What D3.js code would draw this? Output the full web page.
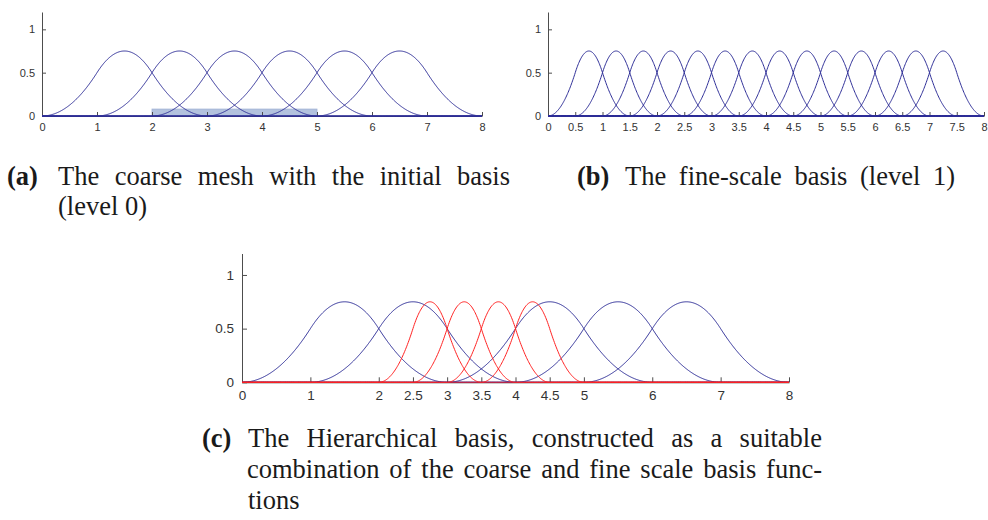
<!DOCTYPE html>
<html>
<head>
<meta charset="utf-8">
<script src="https://cdn.jsdelivr.net/npm/d3@7"></script>
<style>
  html, body { margin: 0; padding: 0; background: #fff; }
  svg { display: block; }
</style>
</head>
<body>
<svg id="fig" width="988" height="520"></svg>
<script>
// Left knot of each quadratic B-spline (support = 3 knot spans)
const coarseStarts = [0, 1, 2, 3, 4, 5];               // level 0, knot spacing 1
const fineStarts = [0, 0.5, 1, 1.5, 2, 2.5, 3, 3.5, 4, 4.5, 5, 5.5, 6, 6.5]; // level 1, spacing 0.5
const hierCoarseStarts = [0, 1, 3, 4, 5];              // coarse functions kept
const hierFineStarts = [2, 2.5, 3, 3.5];               // fine functions added
const coarseSpacing = 1;
const fineSpacing = 0.5;

// Refined cell range on the coarse mesh
const refinedRange = [2, 5];
const refinedBarHeight = 0.08;

// Axis ticks
const yTicks = [0, 0.5, 1];
const xTicksA = [0, 1, 2, 3, 4, 5, 6, 7, 8];
const xTicksB = [0, 0.5, 1, 1.5, 2, 2.5, 3, 3.5, 4, 4.5, 5, 5.5, 6, 6.5, 7, 7.5, 8];
const xTicksC = [0, 1, 2, 2.5, 3, 3.5, 4, 4.5, 5, 6, 7, 8];
const xDomain = [0, 8];
const yDomain = [0, 1.2];

// Caption text
const captionA = ["(a)", "The coarse mesh with the initial basis", "(level 0)"];
const captionB = ["(b)", "The fine-scale basis (level 1)"];
const captionC = ["(c)", "The Hierarchical basis, constructed as a suitable",
                  "combination of the coarse and fine scale basis func-", "tions"];

const BLUE = "#2f2f98";
const RED = "#ff2222";
const AXIS = "#4d4d4d";
const TICKTXT = "#333";

// Uniform quadratic B-spline starting at knot t0 with spacing h
function quadBSpline(t0, h) {
  return x => {
    const u = (x - t0) / h;
    if (u < 0 || u > 3) return 0;
    if (u < 1) return u * u / 2;
    if (u < 2) return (-2 * u * u + 6 * u - 3) / 2;
    return (3 - u) * (3 - u) / 2;
  };
}

const samples = d3.range(0, 8 + 1e-9, 0.01);
const svg = d3.select("#fig");

function panel(cfg) {
  const x = d3.scaleLinear().domain(xDomain).range([cfg.x0, cfg.x1]);
  const y = d3.scaleLinear().domain(yDomain).range([cfg.y0, cfg.y1]);
  const g = svg.append("g");

  if (cfg.shade) {
    g.append("rect")
      .attr("x", x(cfg.shade[0]))
      .attr("y", y(refinedBarHeight))
      .attr("width", x(cfg.shade[1]) - x(cfg.shade[0]))
      .attr("height", y(0) - y(refinedBarHeight))
      .attr("fill", "#b3c2de")
      .attr("stroke", "#9fb1d4")
      .attr("stroke-width", 0.8);
  }

  // axes: ticks drawn inward
  const xAxis = d3.axisBottom(x).tickValues(cfg.xTicks)
    .tickSize(-cfg.tick).tickPadding(cfg.tick + 3).tickSizeOuter(0)
    .tickFormat(d3.format("~g"));
  const yAxis = d3.axisLeft(y).tickValues(yTicks)
    .tickSize(-cfg.tick).tickPadding(cfg.tick + 3).tickSizeOuter(0)
    .tickFormat(d3.format("~g"));

  const gx = g.append("g").attr("transform", `translate(0,${cfg.y0})`).call(xAxis);
  const gy = g.append("g").attr("transform", `translate(${cfg.x0},0)`).call(yAxis);
  [gx, gy].forEach(a => {
    a.select(".domain").attr("stroke", AXIS).attr("stroke-width", 1);
    a.selectAll(".tick line").attr("stroke", AXIS);
    a.selectAll(".tick text")
      .attr("fill", TICKTXT)
      .attr("font-family", "Liberation Sans, Arial, sans-serif")
      .attr("font-size", cfg.fs);
  });

  const line = d3.line().x(d => x(d[0])).y(d => y(d[1]));
  cfg.series.forEach(s => {
    s.starts.forEach(t0 => {
      const f = quadBSpline(t0, s.h);
      g.append("path")
        .attr("d", line(samples.map(v => [v, f(v)])))
        .attr("fill", "none")
        .attr("stroke", s.color)
        .attr("stroke-width", 1);
    });
  });
}

panel({ x0: 42, x1: 482, y0: 116, y1: 12, tick: 4, fs: 11, xTicks: xTicksA,
        shade: refinedRange,
        series: [{ starts: coarseStarts, h: coarseSpacing, color: BLUE }] });

panel({ x0: 548, x1: 984, y0: 116, y1: 12, tick: 4, fs: 11, xTicks: xTicksB,
        series: [{ starts: fineStarts, h: fineSpacing, color: BLUE }] });

panel({ x0: 242, x1: 789, y0: 382.3, y1: 253.5, tick: 5, fs: 13.5, xTicks: xTicksC,
        series: [{ starts: hierCoarseStarts, h: coarseSpacing, color: BLUE },
                 { starts: hierFineStarts, h: fineSpacing, color: RED }] });

// Captions: lines are justified by stretching the word spaces
const capFont = "Liberation Serif, Times New Roman, serif";
function capText(str, x, y, opts = {}) {
  const t = svg.append("text")
    .attr("x", x).attr("y", y)
    .attr("font-family", capFont)
    .attr("font-size", 26.5)
    .attr("fill", "#1a1a1a")
    .attr("font-weight", opts.bold ? "bold" : "normal")
    .text(str);
  if (opts.width) {
    const natural = t.node().getComputedTextLength();
    const gaps = (str.match(/ /g) || []).length;
    if (gaps > 0) t.attr("word-spacing", (opts.width - natural) / gaps);
  }
  return t;
}

capText(captionA[0], 7, 185, { bold: true });
capText(captionA[1], 58, 185, { width: 452 });
capText(captionA[2], 58, 215);

capText(captionB[0], 577, 185, { bold: true });
capText(captionB[1], 625, 185, { width: 330 });

capText(captionC[0], 202, 447, { bold: true });
capText(captionC[1], 248, 447, { width: 574 });
capText(captionC[2], 247, 478, { width: 575 });
capText(captionC[3], 248, 509);
</script>
</body>
</html>
